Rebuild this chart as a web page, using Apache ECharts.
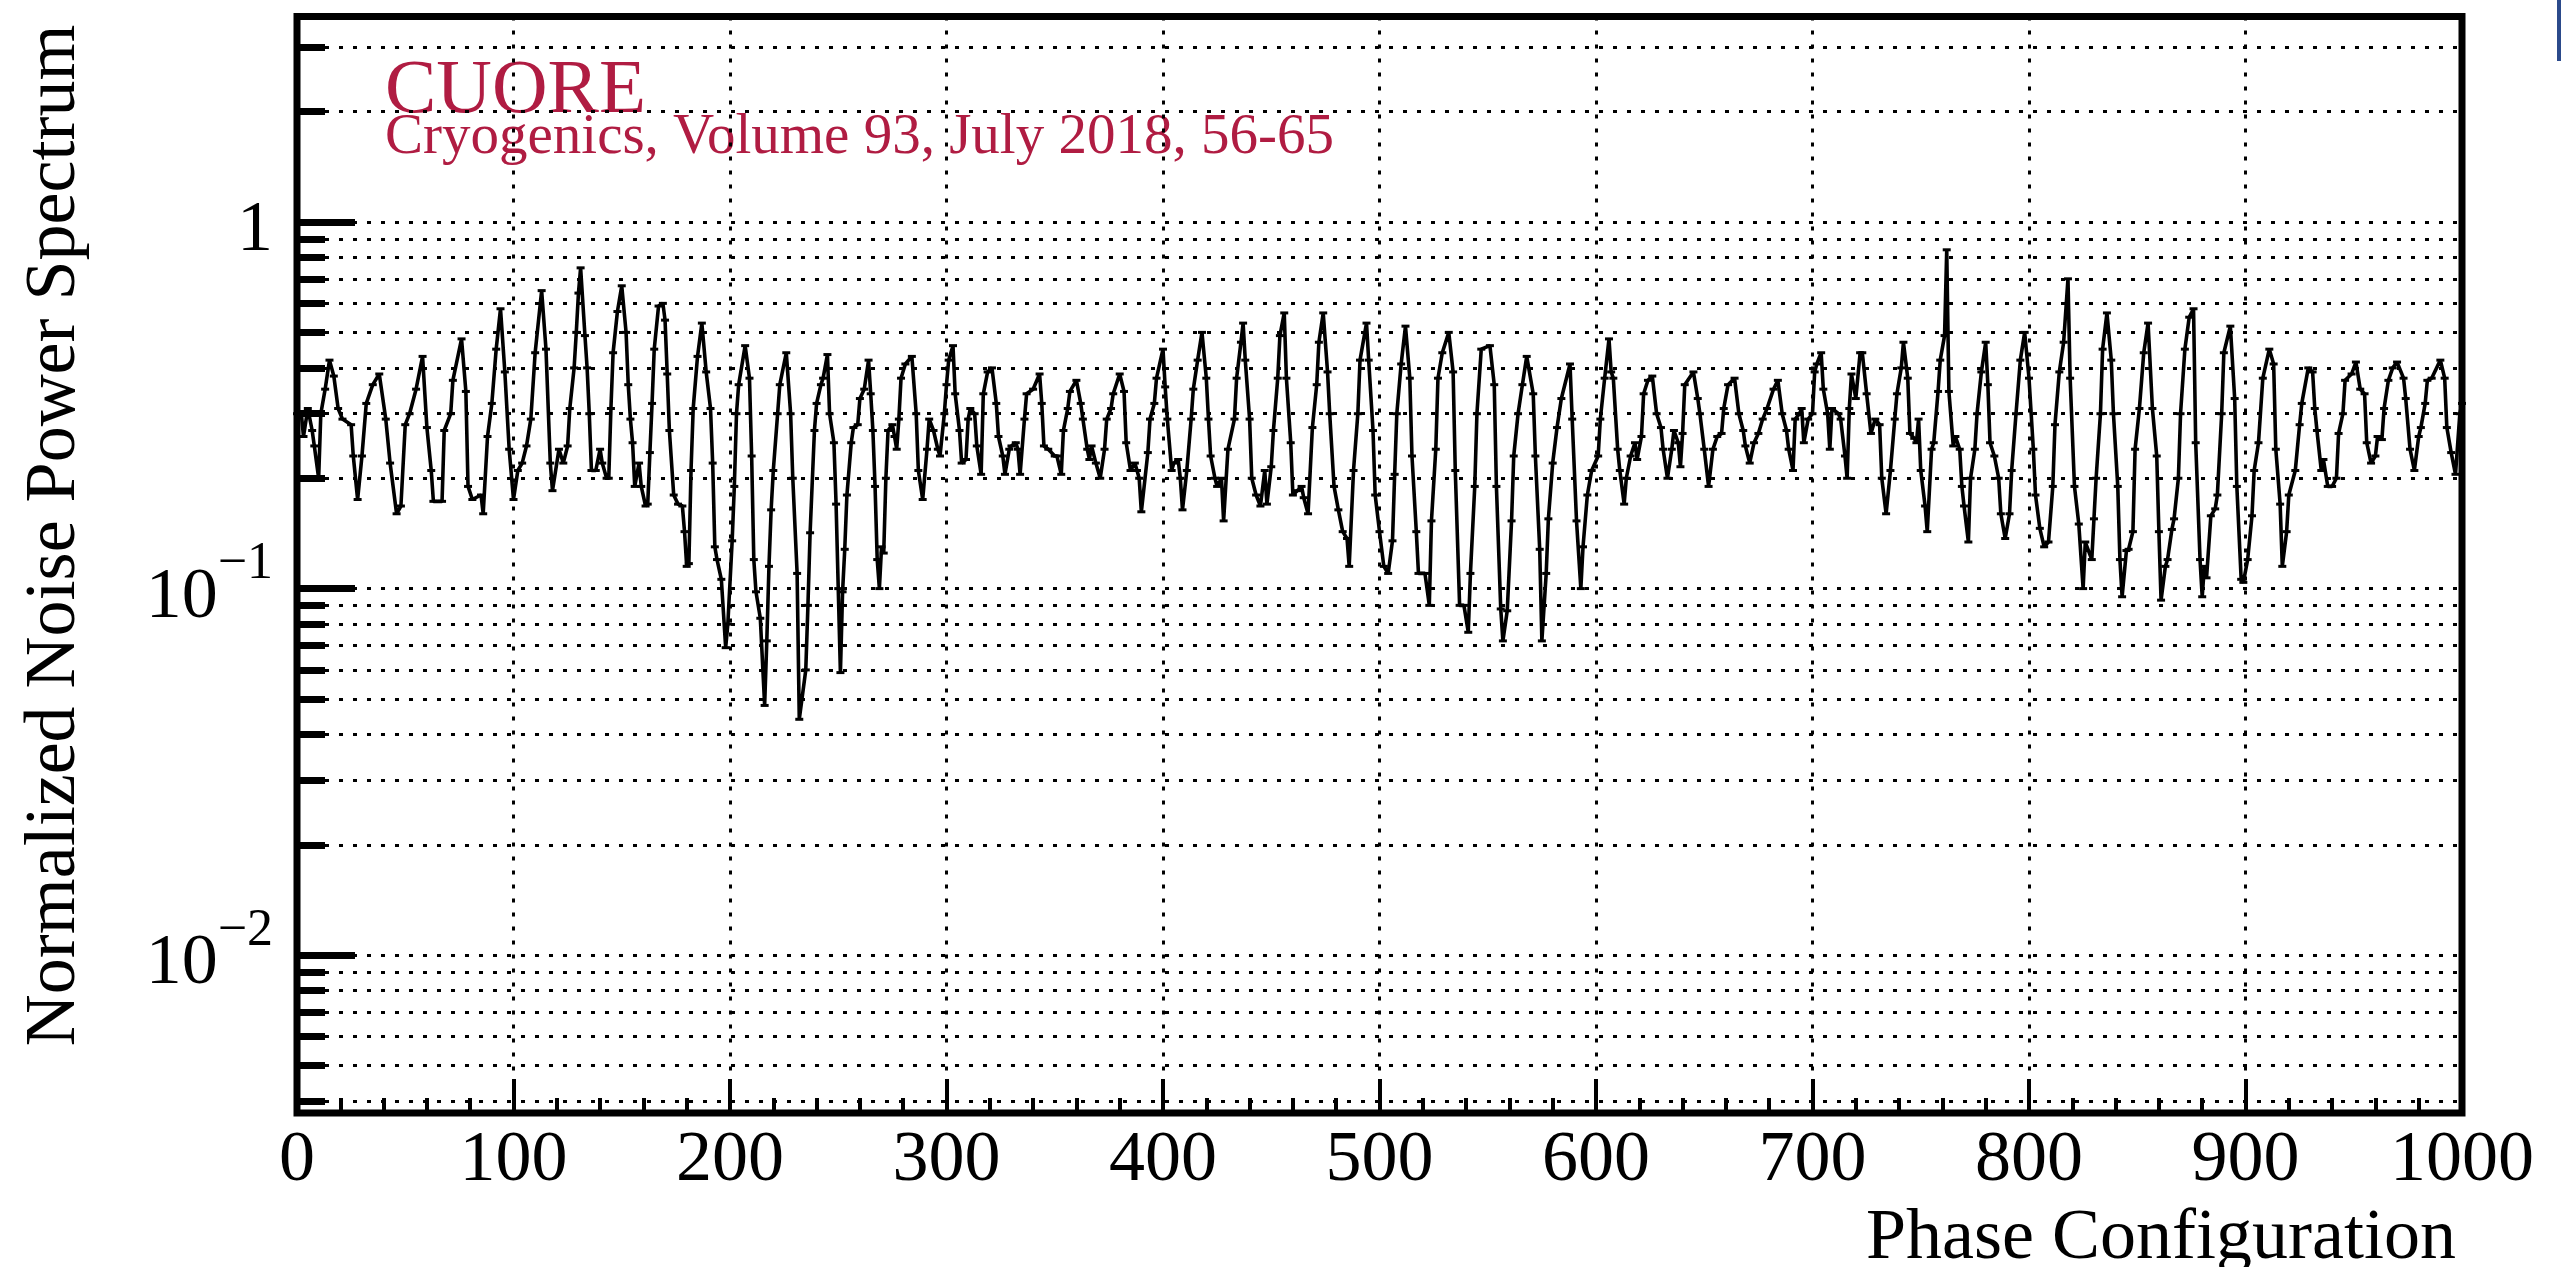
<!DOCTYPE html>
<html><head><meta charset="utf-8">
<script src="https://cdn.jsdelivr.net/npm/echarts@6/dist/echarts.min.js"></script>
<style>html,body{margin:0;padding:0;background:#fff}#c{width:2561px;height:1267px}</style>
</head><body><div id="c"></div>
<script>
// ---- data ----
const spectrum = [
[0,0.30],[2,0.30],[3,0.26],[5,0.31],[7,0.27],[8,0.245],[10,0.20],[11,0.30],[13,0.35],[15,0.42],
[17,0.38],[19,0.31],[21,0.29],[25,0.28],[26,0.23],[28,0.175],[30,0.23],[32,0.32],[35,0.36],[38,0.385],
[41,0.29],[43,0.22],[46,0.16],[48,0.168],[50,0.28],[52,0.30],[55,0.35],[58,0.43],[60,0.275],[62,0.21],
[63,0.173],[67,0.173],[68,0.27],[71,0.30],[72,0.37],[76,0.48],[78,0.345],[79,0.19],[81,0.175],[85,0.18],
[86,0.16],[88,0.26],[90,0.32],[92,0.45],[94,0.58],[96,0.39],[98,0.24],[100,0.175],[102,0.21],[104,0.22],
[106,0.245],[108,0.29],[110,0.44],[113,0.65],[115,0.45],[117,0.22],[118,0.185],[121,0.24],[123,0.22],[125,0.245],
[126,0.31],[128,0.40],[129,0.50],[130,0.64],[131,0.75],[133,0.49],[134,0.40],[135,0.30],[136,0.21],[138,0.21],
[140,0.24],[141,0.22],[143,0.20],[144,0.20],[145,0.31],[146,0.44],[148,0.57],[150,0.67],[152,0.50],[153,0.36],
[154,0.29],[155,0.25],[156,0.19],[158,0.22],[159,0.19],[161,0.168],[162,0.17],[163,0.235],[164,0.32],[165,0.45],
[167,0.59],[169,0.60],[170,0.54],[171,0.385],[172,0.27],[174,0.18],[176,0.17],[178,0.168],[179,0.143],[180,0.115],
[181,0.117],[182,0.21],[183,0.31],[185,0.43],[187,0.53],[189,0.39],[191,0.31],[192,0.22],[193,0.13],[194,0.12],
[196,0.106],[198,0.069],[199,0.08],[201,0.135],[202,0.19],[203,0.30],[204,0.36],[207,0.46],[209,0.375],[210,0.23],
[211,0.12],[212,0.098],[214,0.083],[216,0.048],[217,0.072],[218,0.115],[219,0.164],[220,0.21],[222,0.30],[223,0.36],
[226,0.44],[228,0.30],[229,0.20],[231,0.11],[232,0.044],[235,0.06],[236,0.09],[237,0.142],[239,0.27],[240,0.32],
[242,0.36],[243,0.375],[245,0.435],[246,0.30],[248,0.25],[249,0.17],[250,0.10],[251,0.059],
[252,0.098],[253,0.128],[254,0.18],[256,0.25],[257,0.275],[259,0.28],[260,0.33],[262,0.35],[264,0.42],[265,0.34],
[266,0.27],[267,0.19],[268,0.12],[269,0.10],[270,0.13],[271,0.125],[272,0.20],[273,0.27],[275,0.28],[276,0.26],
[277,0.24],[278,0.29],[279,0.375],[281,0.41],[284,0.43],[286,0.30],[287,0.21],[289,0.175],[291,0.24],[292,0.29],
[294,0.27],[296,0.24],[297,0.23],[299,0.30],[300,0.36],[301,0.42],[303,0.46],[304,0.34],[306,0.27],[307,0.22],
[309,0.225],[310,0.29],[311,0.31],[313,0.30],[314,0.245],[316,0.205],[317,0.34],[319,0.39],[321,0.40],[323,0.32],
[324,0.26],[326,0.23],[327,0.205],[329,0.24],[330,0.245],[332,0.25],[333,0.24],[334,0.205],[336,0.29],[337,0.34],
[340,0.35],[343,0.385],[344,0.32],[345,0.245],[347,0.24],[350,0.23],[351,0.23],[353,0.205],[354,0.27],[356,0.31],
[357,0.345],[360,0.37],[362,0.32],[363,0.29],[365,0.24],[366,0.225],[367,0.245],[369,0.22],[371,0.20],[373,0.24],
[374,0.29],[376,0.31],[377,0.34],[380,0.385],[382,0.345],[383,0.25],[385,0.21],[387,0.22],[388,0.21],[389,0.20],
[390,0.162],[393,0.235],[394,0.29],[396,0.32],[397,0.375],[400,0.45],[401,0.355],[402,0.29],[404,0.21],[405,0.22],
[407,0.225],[408,0.20],[409,0.164],[411,0.21],[413,0.29],[414,0.35],[416,0.42],[418,0.50],[420,0.375],[421,0.29],
[422,0.23],[424,0.20],[425,0.19],[427,0.20],[428,0.153],[430,0.24],[433,0.29],[434,0.375],[436,0.47],[437,0.53],
[438,0.42],[440,0.29],[441,0.20],[443,0.18],[445,0.168],[447,0.21],[448,0.17],[450,0.215],[451,0.27],[453,0.375],
[454,0.49],[456,0.565],[457,0.375],[459,0.25],[460,0.18],[462,0.185],[464,0.19],[465,0.177],[467,0.16],[469,0.275],
[471,0.36],[472,0.47],[474,0.565],[476,0.39],[477,0.30],[479,0.19],[481,0.164],[483,0.143],[485,0.137],[486,0.115],
[488,0.21],[490,0.30],[491,0.42],[494,0.53],[495,0.42],[497,0.27],[498,0.18],[500,0.143],
[502,0.115],[504,0.11],[506,0.135],[507,0.205],[508,0.30],[510,0.41],[512,0.52],[514,0.375],[515,0.23],[517,0.143],
[518,0.11],[521,0.11],[523,0.09],[524,0.153],[526,0.24],[527,0.375],[529,0.44],[532,0.50],[534,0.39],[535,0.21],
[537,0.09],[539,0.09],[541,0.076],[542,0.11],[544,0.19],[545,0.30],[547,0.45],[551,0.46],[553,0.36],[554,0.19],
[556,0.088],[557,0.072],[559,0.087],[561,0.153],[562,0.23],[564,0.30],[566,0.36],[568,0.43],[571,0.34],[572,0.23],
[574,0.128],[575,0.072],[577,0.11],[578,0.155],[580,0.22],[582,0.275],[584,0.33],[588,0.41],[589,0.29],[591,0.153],
[593,0.10],[594,0.13],[596,0.18],[598,0.21],[601,0.23],[602,0.29],[604,0.375],[606,0.48],[607,0.39],[608,0.375],
[610,0.24],[611,0.21],[613,0.17],[614,0.20],[616,0.23],[618,0.25],[619,0.225],[621,0.26],[622,0.34],[624,0.37],
[626,0.38],[628,0.30],[630,0.275],[631,0.24],[633,0.20],[635,0.24],[636,0.27],[638,0.25],[639,0.215],[640,0.265],
[641,0.36],[645,0.39],[647,0.33],[648,0.30],[650,0.24],[652,0.19],[654,0.24],[656,0.26],[658,0.265],[659,0.31],
[661,0.36],[664,0.375],[666,0.30],[668,0.27],[669,0.245],[671,0.22],[673,0.25],[675,0.265],[677,0.29],[679,0.31],
[682,0.35],[684,0.37],[686,0.30],[688,0.27],[689,0.24],[691,0.21],[692,0.29],[694,0.30],[695,0.31],[696,0.25],
[698,0.29],[700,0.30],[701,0.39],[702,0.41],[704,0.44],[705,0.35],[707,0.30],[708,0.24],[709,0.31],[712,0.30],
[713,0.29],[715,0.23],[716,0.20],[717,0.31],[718,0.385],[720,0.33],[722,0.44],[723,0.44],[725,0.34],[727,0.265],
[729,0.29],[731,0.28],[732,0.20],[734,0.16],[736,0.21],[738,0.29],[739,0.34],[741,0.40],[742,0.47],[744,0.375],
[745,0.265],[747,0.257],[748,0.25],[749,0.29],[750,0.21],
[752,0.168],[753,0.143],[755,0.24],[756,0.25],[758,0.345],[759,0.42],[761,0.49],[762,0.84],[763,0.345],[765,0.245],
[766,0.26],[768,0.24],[769,0.19],[770,0.168],[772,0.134],[773,0.20],[775,0.24],[776,0.30],[778,0.39],[780,0.47],
[781,0.36],[782,0.25],[784,0.23],[786,0.20],[787,0.16],[789,0.137],[791,0.16],[792,0.21],[794,0.30],[796,0.42],
[798,0.50],[800,0.375],[802,0.24],[803,0.18],[805,0.146],[807,0.13],[809,0.134],[811,0.19],[812,0.28],[814,0.39],
[816,0.47],[818,0.70],[819,0.375],[821,0.19],[823,0.15],[825,0.10],[826,0.134],[829,0.12],[830,0.155],[831,0.20],
[833,0.30],[834,0.45],[836,0.565],[838,0.42],[839,0.30],[841,0.19],[842,0.12],[843,0.095],[845,0.127],[846,0.128],
[848,0.143],[849,0.24],[851,0.31],[853,0.44],[855,0.53],[857,0.31],[859,0.23],[860,0.143],[861,0.093],[863,0.115],
[864,0.12],[866,0.145],[867,0.155],[869,0.20],[870,0.30],[872,0.45],[874,0.55],
[876,0.58],[877,0.25],[879,0.12],[880,0.095],[881,0.115],[882,0.107],[884,0.158],[886,0.165],[887,0.18],[889,0.30],
[890,0.44],[893,0.52],[895,0.33],[896,0.19],[898,0.106],[899,0.104],[901,0.12],[903,0.158],[904,0.21],[906,0.25],
[908,0.375],[911,0.45],[913,0.41],[914,0.24],[916,0.17],[917,0.115],[919,0.143],[920,0.18],[923,0.21],[925,0.28],
[926,0.32],[929,0.40],[931,0.39],[932,0.31],[933,0.27],[935,0.21],[936,0.225],[938,0.19],[940,0.19],[942,0.20],
[943,0.265],[945,0.30],[946,0.37],[949,0.385],[951,0.415],[953,0.35],[955,0.34],[956,0.25],[958,0.22],[960,0.23],
[961,0.26],[963,0.255],[964,0.31],[966,0.37],[968,0.40],[970,0.415],[973,0.375],[974,0.33],[976,0.24],[978,0.21],
[980,0.26],[981,0.275],[983,0.32],[984,0.37],[986,0.375],[990,0.42],[992,0.375],[993,0.275],[995,0.235],[997,0.205],
[999,0.30],[1000,0.32]
];
const xRange = [0, 1000];
const xMajorStep = 100;
const yRange = [0.00371, 3.637];
const yMajorTicks = [0.01, 0.1, 1];
const yMajorLabels = ['10^{−2}', '10^{−1}', '1'];
const yMinorTicks = [0.004,0.005,0.006,0.007,0.008,0.009,
  0.02,0.03,0.04,0.05,0.06,0.07,0.08,0.09,
  0.2,0.3,0.4,0.5,0.6,0.7,0.8,0.9, 2,3];
const xTitle = 'Phase Configuration';
const yTitle = 'Normalized Noise Power Spectrum';
const noteLines = ['CUORE', 'Cryogenics, Volume 93, July 2018, 56-65'];

// ---- drawing ----
const FONT = 'Liberation Serif';
const RED = '#B01C42';
const dotted = {color:'#000', width:3, type:[4,10]};

function yLabel(v){
  let best = 0, bd = Infinity;
  yMajorTicks.forEach((t,i)=>{ const d = Math.abs(Math.log10(v)-Math.log10(t)); if(d<bd){bd=d;best=i;} });
  const s = yMajorLabels[best];
  const m = s.match(/^(.*)\^\{(.*)\}$/);
  return m ? '{b|'+m[1]+'}{s|'+m[2]+'}' : '{b|'+s+'}';
}

const chart = echarts.init(document.getElementById('c'), null, {renderer:'canvas'});
chart.setOption({
  animation:false,
  backgroundColor:'#fff',
  grid:{left:297, right:99, top:16.5, bottom:154, show:true, borderColor:'#000', borderWidth:7,
        backgroundColor:'transparent', containLabel:false, outerBoundsMode:'none'},
  xAxis:{
    type:'value', min:xRange[0], max:xRange[1], interval:xMajorStep,
    axisLine:{show:false},
    axisTick:{show:true, inside:true, length:34, lineStyle:{color:'#000', width:4}},
    minorTick:{show:true, splitNumber:5, length:15, lineStyle:{color:'#000', width:4}},
    axisLabel:{fontFamily:FONT, fontSize:72, color:'#000', margin:12, formatter:v=>String(v)},
    splitLine:{show:true, lineStyle:dotted},
    name:xTitle, nameLocation:'end', nameGap:-6, nameMoveOverlap:false,
    nameTextStyle:{fontFamily:FONT, fontSize:72, color:'#000', align:'right', verticalAlign:'top', padding:[90,0,0,0]}
  },
  yAxis:[{
    type:'log', logBase:10, min:yRange[0], max:yRange[1], position:'left',
    axisLine:{show:false},
    axisTick:{show:true, inside:true, length:58, lineStyle:{color:'#000', width:7}, customValues:yMajorTicks},
    minorTick:{show:false},
    axisLabel:{show:true, customValues:yMajorTicks, formatter:yLabel, margin:24,
      rich:{ b:{fontFamily:FONT, fontSize:72, color:'#000', padding:[18,0,0,0]},
             s:{fontFamily:FONT, fontSize:52, color:'#000', padding:[0,0,48,0]} }},
    splitLine:{show:true, lineStyle:dotted},
    name:yTitle, nameLocation:'end', nameRotate:90, nameGap:-8, nameMoveOverlap:false,
    nameTextStyle:{fontFamily:FONT, fontSize:72, color:'#000', align:'right', verticalAlign:'bottom', padding:[0,0,206,0]}
  },{
    type:'log', logBase:10, min:yRange[0], max:yRange[1], position:'left',
    axisLine:{show:false},
    axisTick:{show:true, inside:true, length:28, lineStyle:{color:'#000', width:7}, customValues:yMinorTicks},
    minorTick:{show:false},
    axisLabel:{show:false},
    splitLine:{show:true, lineStyle:dotted}
  }],
  series:[{
    type:'line', data:spectrum, xAxisIndex:0, yAxisIndex:0,
    symbol:'rect', symbolSize:[8,3], showAllSymbol:true,
    lineStyle:{color:'#000', width:3.6}, itemStyle:{color:'#000'},
    silent:true, z:5
  }],
  graphic:[
    {type:'text', x:385, y:92, style:{text:noteLines[0], fontFamily:FONT, fontSize:77, fill:RED, verticalAlign:'middle'}},
    {type:'text', x:385, y:138, style:{text:noteLines[1], fontFamily:FONT, fontSize:57, fill:RED, verticalAlign:'middle'}},
    {type:'rect', shape:{x:2557, y:0, width:4, height:61}, style:{fill:'#2B4A8B'}}
  ]
});
</script></body></html>
